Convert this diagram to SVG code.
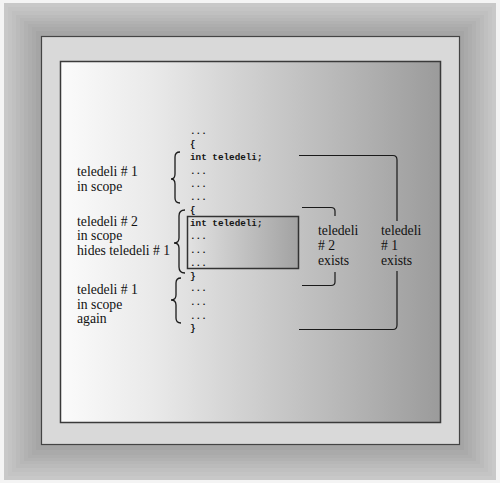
<svg xmlns="http://www.w3.org/2000/svg" width="500" height="483" viewBox="0 0 500 483">
<defs>
<linearGradient id="panel" x1="0" y1="0" x2="1" y2="0">
<stop offset="0" stop-color="#fbfbfb"/>
<stop offset="0.25" stop-color="#e9e9e9"/>
<stop offset="0.5" stop-color="#cfcfcf"/>
<stop offset="0.75" stop-color="#b6b6b6"/>
<stop offset="1" stop-color="#9b9b9b"/>
</linearGradient>
<linearGradient id="boxg" x1="0" y1="0" x2="1" y2="0">
<stop offset="0" stop-color="#e2e2e2"/>
<stop offset="1" stop-color="#a2a2a2"/>
</linearGradient>
<style>
.code{font-family:"Liberation Mono","DejaVu Sans Mono",monospace;font-size:9.3px;font-weight:bold;fill:#151515}
.lbl{font-family:"Liberation Serif","Times New Roman",serif;font-size:13.7px;fill:#111}
.brace{fill:none;stroke:#1a1a1a;stroke-width:1.3}
.conn{fill:none;stroke:#1a1a1a;stroke-width:1.2}
</style>
</defs>
<rect width="500" height="483" fill="#f4f4f4"/>
<g id="frame">
<rect x="4" y="3" width="492" height="477" fill="#c8c8c8"/>
<rect x="8" y="7" width="484" height="469" fill="#c4c4c4"/>
<rect x="12" y="11" width="476" height="461" fill="#c0c0c0"/>
<rect x="16" y="15" width="468" height="453" fill="#bbbbbb"/>
<rect x="20" y="18" width="460" height="446" fill="#b7b7b7"/>
<rect x="24" y="21" width="452" height="440" fill="#b2b2b2"/>
<rect x="28" y="24" width="444" height="434" fill="#aeaeae"/>
<rect x="32" y="27" width="436" height="428" fill="#aaaaaa"/>
<rect x="36" y="31" width="428" height="419" fill="#a5a5a5"/>
<rect x="41.5" y="36.5" width="418" height="408" fill="#d9d9d9" stroke="#444" stroke-width="1.2"/>
<rect x="60.5" y="61.5" width="380" height="361" fill="url(#panel)" stroke="#3a3a3a" stroke-width="1.5"/>
</g>
<g id="inner-block">
<rect x="187.5" y="216.5" width="111" height="52" fill="url(#boxg)" stroke="#333" stroke-width="1.5"/>
</g>
<g id="code">
<text class="code" x="190" y="134">...</text>
<text class="code" x="190" y="147">{</text>
<text class="code" x="190" y="160">int teledeli;</text>
<text class="code" x="190" y="174">...</text>
<text class="code" x="190" y="187">...</text>
<text class="code" x="190" y="200">...</text>
<text class="code" x="190" y="213">{</text>
<text class="code" x="190" y="226">int teledeli;</text>
<text class="code" x="190" y="239">...</text>
<text class="code" x="190" y="253">...</text>
<text class="code" x="190" y="266">...</text>
<text class="code" x="190" y="279">}</text>
<text class="code" x="190" y="291">...</text>
<text class="code" x="190" y="305">...</text>
<text class="code" x="190" y="319">...</text>
<text class="code" x="190" y="331">}</text>
</g>
<g id="braces">
<path class="brace" d="M180,152 Q175,152 175,157 L175,174 Q175,179 171,179 Q175,179 175,184 L175,198 Q175,203 180,203"/>
<path class="brace" d="M185,210 Q179,210 179,216 L179,238 Q179,243 174,243 Q179,243 179,248 L179,267 Q179,273 185,273"/>
<path class="brace" d="M181,278 Q176,278 176,283 L176,295 Q176,300 171,300 Q176,300 176,305 L176,318 Q176,323 181,323"/>
</g>
<g id="label-1">
<text class="lbl" x="77" y="176">teledeli # 1</text>
<text class="lbl" x="77" y="191">in scope</text>
</g>
<g id="label-2">
<text class="lbl" x="77" y="226">teledeli # 2</text>
<text class="lbl" x="77" y="240">in scope</text>
<text class="lbl" x="77" y="255">hides teledeli # 1</text>
</g>
<g id="label-3">
<text class="lbl" x="77" y="294">teledeli # 1</text>
<text class="lbl" x="77" y="309">in scope</text>
<text class="lbl" x="77" y="323">again</text>
</g>
<g id="label-exists-2">
<text class="lbl" x="318" y="235">teledeli</text>
<text class="lbl" x="318" y="250"># 2</text>
<text class="lbl" x="318" y="265">exists</text>
</g>
<g id="label-exists-1">
<text class="lbl" x="381" y="235">teledeli</text>
<text class="lbl" x="381" y="250"># 1</text>
<text class="lbl" x="381" y="265">exists</text>
</g>
<g id="connectors">
<path class="conn" d="M299,155.5 L393,155.5 Q397,155.5 397,160 L397,221"/>
<path class="conn" d="M397,271 L397,325 Q397,329.5 393,329.5 L299,329.5"/>
<path class="conn" d="M302,207.5 L331,207.5 Q335,207.5 335,211 L335,216"/>
<path class="conn" d="M335,272 L335,282 Q335,285.5 331,285.5 L302,285.5"/>
</g>
</svg>
